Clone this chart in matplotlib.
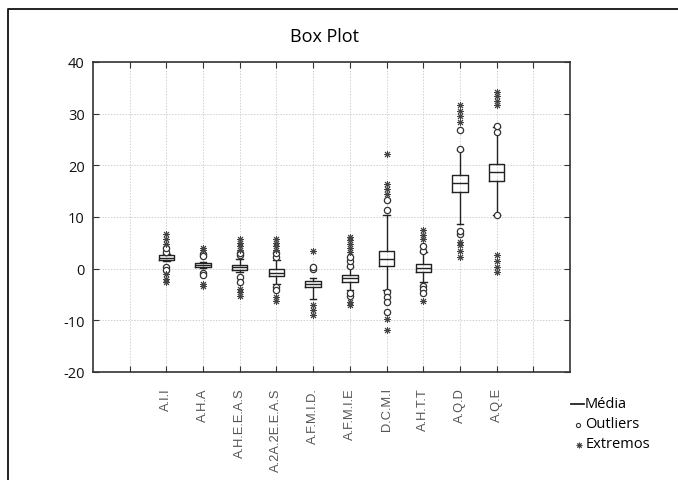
import matplotlib
matplotlib.use("Agg")
import matplotlib.pyplot as plt
from matplotlib.lines import Line2D

categories = ["A.I.I", "A.H.A", "A.H.E.E.A.S", "A.2A.2E.E.A.S", "A.F.M.I.D.",
              "A.F.M.I.E", "D.C.M.I", "A.H.T.T", "A.Q.D", "A.Q.E"]
q1 = [1.7, 0.25, -0.2, -1.4, -3.5, -2.6, 0.5, -0.6, 14.8, 16.9]
med = [2.1, 0.7, 0.3, -0.8, -3.0, -1.9, 1.9, 0.2, 16.6, 18.7]
q3 = [2.6, 1.1, 0.8, -0.1, -2.4, -1.3, 3.5, 1.0, 18.2, 20.3]
whislo = [1.5, 0.2, -0.6, -2.9, -5.8, -4.2, -4.2, -2.5, 8.7, 10.4]
whishi = [2.8, 1.2, 1.9, 1.6, -1.9, 0.4, 10.4, 3.3, 22.9, 27.4]
outliers = [
    [3.3, 4.0, 0.4, -0.2],
    [2.9, 2.5, -0.8, -1.3],
    [2.6, 3.1, -1.6, -2.5],
    [2.3, 3.0, -3.5, -4.2],
    [0.0, 0.4],
    [0.6, 1.5, 2.3, -5.2, -4.8],
    [11.3, 13.2, -4.5, -5.4, -6.4, -8.3],
    [3.5, 4.3, -3.3, -4.0, -4.8],
    [23.2, 26.9, 6.8, 7.3],
    [26.5, 27.7, 10.4],
]
extremes = [
    [4.8, 5.8, 6.8, -1.0, -2.0, -2.6],
    [3.6, 4.0, -3.0, -3.4],
    [3.6, 4.3, 5.0, 5.8, -3.9, -4.5, -5.2],
    [3.6, 4.3, 5.0, 5.8, -5.4, -6.2],
    [3.4, -7.0, -8.0, -9.0],
    [3.3, 4.0, 4.8, 5.5, 6.2, -6.4, -7.1],
    [14.5, 15.5, 16.4, 22.2, -9.7, -11.9],
    [5.8, 6.5, 7.5, -6.2],
    [28.3, 29.5, 30.5, 31.6, 2.3, 3.5, 4.5, 5.2],
    [31.6, 32.5, 33.5, 34.2, -0.6, 0.3, 1.5, 2.6],
]
yticks = [-20, -10, 0, 10, 20, 30, 40]

W, H = 678, 481
fig = plt.figure(figsize=(W / 100, H / 100), dpi=100)
ax = fig.add_axes([93 / W, 1 - 373 / H, (570 - 93) / W, (373 - 63) / H])

positions = list(range(2, 2 + len(categories)))
stats = []
for i in range(len(categories)):
    stats.append(dict(med=med[i], q1=q1[i], q3=q3[i], whislo=whislo[i],
                      whishi=whishi[i], fliers=[], label=categories[i]))
ax.bxp(stats, positions=positions, widths=0.42, capwidths=0.18,
       showfliers=False, patch_artist=False,
       boxprops=dict(color="#222222", lw=1.0),
       medianprops=dict(color="#222222", lw=1.0),
       whiskerprops=dict(color="#222222", lw=1.0),
       capprops=dict(color="#222222", lw=1.0))

for p, vals in zip(positions, outliers):
    ax.plot([p] * len(vals), vals, linestyle="none", marker="o", ms=4.5,
            mfc="white", mec="#333333", mew=0.9, zorder=4)
for p, vals in zip(positions, extremes):
    ax.plot([p] * len(vals), vals, linestyle="none", marker=(8, 2, 0), ms=5,
            mec="#444444", mew=0.7, zorder=4)

ax.set_xlim(0, 13)
ax.set_ylim(-20, 40)
ax.set_xticks(range(1, 13))
ax.set_xticklabels([""] + categories + [""], rotation=90, fontsize=9.3,
                   color="#555555", family="Liberation Sans")
ax.set_yticks(yticks)
ax.set_yticklabels([str(v) for v in yticks], fontsize=10.5, family="Open Sans")
ax.tick_params(direction="in", top=True, right=True, length=4, width=0.8,
               colors="#333333", pad=6)
ax.tick_params(axis="x", labelcolor="#555555", pad=11)
ax.tick_params(axis="y", labelcolor="#111111")
ax.grid(True, color="#d0d0d0", linestyle=(0, (1.5, 1.5)), lw=0.7)
ax.set_axisbelow(True)
for s in ax.spines.values():
    s.set_color("#333333")
    s.set_linewidth(1.2)

fig.text(324 / W, 1 - 37 / H, "Box Plot", ha="center", va="center",
         fontsize=13, family="Open Sans")

# figure frame (left and top)
fig.add_artist(Line2D([8 / W, 8 / W, 1.0], [0.0, 1 - 10 / H, 1 - 10 / H],
                      transform=fig.transFigure, color="#111111", lw=1.3))

# legend-like annotations
fig.add_artist(Line2D([571 / W, 584 / W], [1 - 405 / H, 1 - 405 / H],
                      transform=fig.transFigure, color="#222222", lw=1.3))
fig.text(585 / W, 1 - 405 / H, "Média", ha="left", va="center", fontsize=10.5,
         family="Open Sans")
fig.add_artist(Line2D([578 / W], [1 - 426 / H], transform=fig.transFigure,
                      marker="o", ms=3, mfc="white", mec="#333333", mew=0.8))
fig.text(585 / W, 1 - 425 / H, "Outliers", ha="left", va="center", fontsize=10.5,
         family="Open Sans")
fig.add_artist(Line2D([579 / W], [1 - 446 / H], transform=fig.transFigure,
                      marker=(8, 2, 0), ms=4, mec="#444444", mew=0.7))
fig.text(586 / W, 1 - 445 / H, "Extremos", ha="left", va="center", fontsize=10.5,
         family="Open Sans")

fig.savefig("out.png", dpi=100, facecolor="white")
